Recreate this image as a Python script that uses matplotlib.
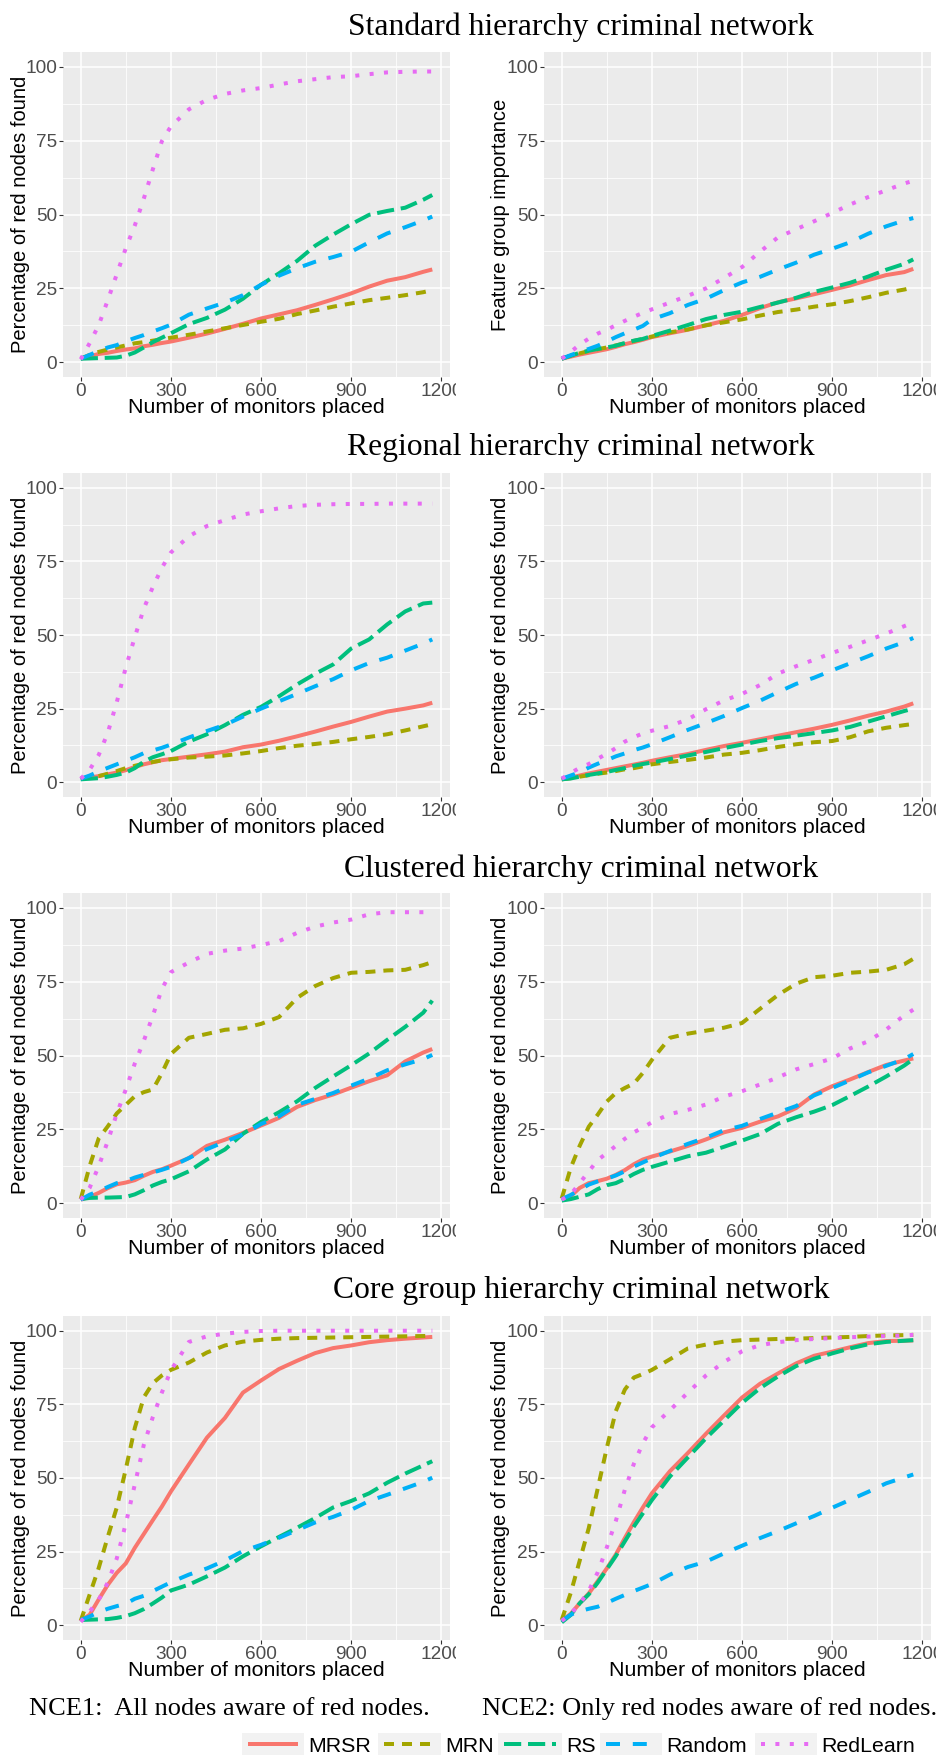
import matplotlib
matplotlib.use("Agg")
import matplotlib.pyplot as plt
from matplotlib.lines import Line2D
from matplotlib.patches import Rectangle
from matplotlib.transforms import Bbox, TransformedBbox

# ---------------------------------------------------------------- data
monitors = [0, 30, 60, 90, 120, 150, 180, 210, 240, 270, 300, 360, 420, 480,
            540, 600, 660, 720, 780, 840, 900, 960, 1020, 1080, 1140, 1170]

methods = ["MRSR", "MRN", "RS", "Random", "RedLearn"]

# Standard hierarchy, NCE1
standard_nce1_mrsr = [1.2, 2.0, 2.8, 3.2, 3.8, 4.3, 4.7, 5.4, 5.9, 6.5, 7.0, 8.3, 9.7, 11.3, 13.0, 14.8, 16.2, 17.6, 19.4, 21.3, 23.3, 25.6, 27.6, 28.8, 30.6, 31.4]
standard_nce1_mrn = [1.2, 2.5, 3.5, 4.3, 5.0, 5.7, 6.4, 6.8, 7.3, 7.8, 8.3, 9.3, 10.4, 11.5, 12.6, 13.7, 14.7, 16.3, 17.5, 18.8, 19.9, 21.0, 21.8, 22.7, 23.7, 24.4]
standard_nce1_rs = [1.2, 1.3, 1.4, 1.5, 1.6, 2.2, 3.3, 5.0, 6.8, 8.3, 9.8, 12.9, 15.0, 17.8, 21.5, 26.2, 30.1, 34.3, 39.4, 43.2, 46.7, 49.9, 51.2, 52.3, 55.0, 56.6]
standard_nce1_random = [1.2, 2.5, 3.8, 5.0, 5.8, 7.1, 8.2, 9.2, 10.4, 11.5, 12.7, 16.1, 18.2, 20.2, 22.7, 26.2, 29.3, 31.8, 34.0, 35.6, 37.4, 40.6, 43.6, 45.7, 48.0, 49.3]
standard_nce1_redlearn = [1.0, 6.5, 12.6, 21.0, 29.8, 38.6, 46.3, 55.4, 65.3, 74.8, 79.8, 85.6, 88.8, 90.8, 92.0, 92.8, 94.0, 95.1, 95.8, 96.5, 96.8, 97.5, 98.1, 98.3, 98.4, 98.4]

# Standard hierarchy, NCE2
standard_nce2_mrsr = [1.2, 1.9, 2.6, 3.2, 3.8, 4.4, 5.2, 6.1, 6.8, 7.6, 8.5, 9.8, 11.0, 12.5, 14.0, 16.0, 18.3, 20.3, 21.6, 23.0, 24.5, 26.0, 27.8, 29.5, 30.5, 31.6]
standard_nce2_mrn = [1.2, 2.2, 3.0, 3.8, 4.4, 5.0, 5.7, 6.4, 7.2, 7.9, 8.7, 10.1, 11.1, 12.5, 13.5, 14.5, 15.8, 17.0, 17.8, 18.8, 19.6, 20.7, 22.0, 23.5, 24.6, 25.3]
standard_nce2_rs = [1.2, 2.2, 3.2, 3.9, 4.5, 5.0, 5.6, 6.5, 7.3, 7.9, 8.9, 10.7, 12.6, 14.6, 16.0, 17.1, 18.7, 20.2, 21.8, 23.8, 25.3, 26.9, 29.0, 31.3, 33.3, 34.8]
standard_nce2_random = [1.2, 2.4, 3.5, 4.5, 5.6, 7.0, 8.5, 9.8, 11.0, 12.3, 14.5, 16.6, 19.4, 21.5, 24.4, 27.0, 28.9, 31.4, 33.7, 36.4, 38.4, 40.6, 43.5, 46.0, 48.0, 48.8]
standard_nce2_redlearn = [1.2, 3.5, 6.0, 8.0, 9.7, 11.0, 12.5, 14.0, 15.4, 16.7, 17.9, 20.2, 22.5, 25.0, 28.5, 32.2, 37.4, 42.3, 45.0, 47.7, 50.5, 53.4, 55.9, 58.2, 60.5, 61.4]

# Regional hierarchy, NCE1
regional_nce1_mrsr = [1.2, 1.6, 2.1, 2.7, 3.3, 4.1, 5.2, 6.1, 6.8, 7.5, 7.9, 8.7, 9.5, 10.4, 11.9, 12.8, 14.1, 15.6, 17.2, 18.9, 20.5, 22.3, 24.0, 25.0, 26.1, 27.0]
regional_nce1_mrn = [1.2, 1.6, 2.1, 2.9, 3.8, 4.8, 5.6, 6.3, 6.9, 7.4, 7.8, 8.4, 8.7, 9.1, 9.8, 10.6, 11.6, 12.4, 13.0, 13.7, 14.6, 15.4, 16.3, 17.6, 19.0, 19.7]
regional_nce1_rs = [1.0, 1.2, 1.4, 1.9, 2.5, 3.3, 4.8, 7.0, 8.5, 9.5, 10.6, 13.8, 16.3, 19.4, 22.9, 25.6, 29.2, 33.2, 36.8, 40.0, 45.4, 48.5, 53.6, 58.0, 60.7, 61.0]
regional_nce1_random = [1.2, 2.3, 3.7, 4.9, 6.1, 7.3, 8.5, 9.9, 10.8, 11.7, 12.8, 15.2, 17.4, 19.5, 22.3, 25.0, 27.5, 30.0, 32.6, 35.0, 38.0, 40.5, 42.3, 44.7, 47.1, 48.5]
regional_nce1_redlearn = [1.2, 4.3, 9.3, 16.8, 27.2, 39.0, 49.3, 59.0, 66.3, 72.8, 78.0, 83.5, 87.0, 89.0, 90.9, 92.0, 93.0, 93.8, 94.2, 94.4, 94.5, 94.5, 94.6, 94.6, 94.6, 94.6]

# Regional hierarchy, NCE2
regional_nce2_mrsr = [1.0, 1.6, 2.3, 3.0, 3.6, 4.2, 4.8, 5.4, 6.0, 6.6, 7.3, 8.5, 9.6, 11.0, 12.3, 13.4, 14.6, 15.8, 17.0, 18.2, 19.5, 21.0, 22.6, 24.0, 25.7, 26.8]
regional_nce2_mrn = [1.0, 1.4, 1.9, 2.4, 2.9, 3.3, 3.8, 4.4, 4.8, 5.4, 6.1, 6.9, 7.6, 8.4, 9.4, 10.0, 10.9, 12.0, 12.9, 13.6, 14.0, 15.3, 17.3, 18.5, 19.4, 19.8]
regional_nce2_rs = [1.0, 1.3, 1.9, 2.5, 3.0, 3.5, 4.2, 4.8, 5.6, 6.2, 6.7, 7.9, 9.1, 10.3, 11.6, 12.8, 14.0, 15.0, 15.8, 16.7, 17.6, 18.8, 20.6, 22.4, 24.2, 25.0]
regional_nce2_random = [1.2, 2.3, 3.4, 5.0, 6.3, 7.5, 8.8, 9.8, 10.9, 11.8, 12.9, 15.3, 17.8, 20.1, 22.5, 25.2, 27.7, 30.6, 33.4, 35.5, 38.0, 40.4, 42.8, 45.4, 47.6, 49.0]
regional_nce2_redlearn = [1.2, 3.2, 4.9, 6.2, 8.0, 9.7, 11.6, 13.8, 15.3, 16.6, 17.5, 19.1, 21.4, 24.8, 27.8, 30.0, 33.0, 36.9, 39.4, 41.6, 43.9, 46.0, 48.2, 50.5, 53.0, 54.3]

# Clustered hierarchy, NCE1
clustered_nce1_mrsr = [1.2, 2.2, 3.5, 5.1, 6.4, 7.0, 7.8, 9.3, 10.6, 11.5, 12.7, 15.3, 19.4, 21.5, 23.8, 26.3, 28.9, 32.6, 34.9, 36.8, 39.1, 41.3, 43.3, 48.0, 51.0, 52.2]
clustered_nce1_mrn = [1.4, 12.7, 22.0, 26.0, 30.4, 33.3, 36.2, 37.6, 38.5, 44.0, 50.5, 56.0, 57.3, 58.7, 59.2, 60.7, 63.0, 69.5, 73.5, 76.2, 78.0, 78.3, 78.8, 79.0, 80.6, 81.6]
clustered_nce1_rs = [1.4, 1.8, 1.9, 1.9, 2.0, 2.1, 3.0, 4.4, 6.0, 7.2, 8.1, 10.8, 14.8, 18.2, 23.5, 27.5, 30.8, 34.5, 39.0, 42.9, 46.7, 50.7, 55.3, 59.7, 64.5, 68.6]
clustered_nce1_random = [1.2, 2.9, 4.1, 5.5, 6.8, 7.5, 8.7, 9.6, 10.4, 11.3, 12.3, 15.3, 18.3, 20.8, 23.3, 26.8, 29.4, 33.3, 35.3, 37.3, 39.8, 42.2, 45.0, 47.0, 48.8, 50.2]
clustered_nce1_redlearn = [1.2, 5.3, 12.6, 21.0, 30.3, 38.5, 47.3, 55.0, 63.5, 72.5, 78.2, 81.5, 84.4, 85.5, 86.2, 87.4, 88.7, 91.5, 93.6, 95.0, 96.0, 97.8, 98.5, 98.5, 98.5, 98.5]

# Clustered hierarchy, NCE2
clustered_nce2_mrsr = [1.2, 2.4, 5.2, 6.8, 7.5, 8.3, 9.6, 11.2, 13.2, 14.8, 15.8, 17.5, 19.4, 21.6, 24.0, 25.5, 27.6, 29.4, 32.2, 36.8, 39.6, 41.9, 44.4, 46.8, 48.3, 49.0]
clustered_nce2_mrn = [1.6, 12.0, 19.5, 25.9, 30.0, 34.4, 37.3, 39.0, 40.5, 44.1, 48.5, 56.0, 57.4, 58.4, 59.4, 61.0, 65.8, 70.5, 74.3, 76.5, 77.0, 78.0, 78.4, 79.0, 80.9, 82.7]
clustered_nce2_rs = [0.9, 1.4, 2.2, 3.0, 4.8, 6.1, 6.8, 8.2, 9.9, 11.3, 12.3, 14.1, 15.9, 17.1, 19.1, 21.2, 23.4, 26.9, 29.1, 31.0, 33.2, 36.3, 39.5, 42.9, 46.6, 48.8]
clustered_nce2_random = [1.4, 2.8, 4.5, 6.3, 7.4, 8.3, 9.4, 10.8, 12.4, 13.8, 15.2, 17.7, 20.1, 22.2, 24.7, 26.2, 28.5, 30.7, 32.9, 36.5, 39.0, 41.6, 44.3, 46.5, 48.8, 50.5]
clustered_nce2_redlearn = [1.2, 3.0, 6.8, 10.8, 14.6, 17.0, 19.4, 21.8, 24.0, 25.6, 27.4, 30.2, 31.6, 33.4, 36.1, 37.9, 40.2, 42.6, 45.3, 47.1, 49.0, 52.4, 54.8, 58.8, 63.6, 65.5]

# Core group hierarchy, NCE1
core_nce1_mrsr = [1.5, 3.6, 8.8, 13.7, 17.8, 21.0, 26.3, 31.0, 35.7, 40.3, 45.4, 54.6, 63.7, 70.4, 79.0, 83.1, 87.0, 89.8, 92.4, 94.1, 95.0, 96.1, 96.8, 97.3, 97.7, 97.9]
core_nce1_mrn = [1.5, 10.5, 19.5, 30.0, 40.0, 53.0, 67.0, 77.4, 82.2, 84.8, 86.7, 89.2, 92.6, 95.0, 96.3, 96.9, 97.3, 97.5, 97.6, 97.7, 97.8, 97.9, 98.0, 98.1, 98.2, 98.3]
core_nce1_rs = [1.8, 1.9, 2.0, 2.1, 2.5, 3.1, 4.1, 5.5, 7.4, 9.4, 11.8, 13.8, 16.6, 19.6, 23.4, 26.8, 30.0, 33.1, 36.4, 40.0, 42.2, 44.8, 48.4, 51.5, 54.3, 55.7]
core_nce1_random = [1.8, 3.0, 4.5, 5.6, 6.5, 7.3, 9.0, 10.0, 11.6, 13.1, 14.6, 17.2, 19.3, 22.0, 25.2, 27.3, 29.7, 32.3, 34.9, 36.8, 39.2, 42.2, 44.3, 46.5, 48.7, 50.1]
core_nce1_redlearn = [1.2, 4.7, 8.7, 14.5, 22.7, 34.5, 47.8, 61.3, 70.7, 79.0, 86.5, 96.2, 98.1, 99.0, 99.6, 99.9, 100, 100, 100, 100, 100, 100, 100, 100, 100, 100]

# Core group hierarchy, NCE2
core_nce2_mrsr = [1.5, 3.9, 7.5, 10.8, 15.0, 19.3, 24.0, 29.6, 35.0, 40.0, 44.8, 52.3, 58.5, 65.0, 71.2, 77.3, 82.0, 85.5, 88.9, 91.5, 92.9, 94.4, 95.8, 96.5, 96.6, 96.7]
core_nce2_mrn = [1.8, 11.0, 22.0, 33.0, 46.5, 60.2, 72.7, 80.0, 84.1, 85.3, 86.7, 90.3, 94.0, 95.3, 96.3, 96.8, 97.0, 97.2, 97.3, 97.5, 97.7, 97.9, 98.2, 98.4, 98.5, 98.6]
core_nce2_rs = [1.0, 3.5, 7.5, 10.5, 14.5, 19.0, 23.5, 28.5, 33.5, 38.0, 42.5, 50.5, 57.0, 63.5, 69.5, 75.5, 80.5, 84.5, 88.0, 90.5, 92.3, 94.0, 95.4, 96.2, 96.6, 96.8]
core_nce2_random = [1.5, 3.6, 4.8, 5.6, 6.3, 7.6, 9.0, 10.3, 11.6, 12.8, 14.0, 17.2, 19.8, 21.6, 24.4, 27.0, 29.6, 32.0, 34.6, 37.1, 39.9, 42.6, 45.3, 48.2, 50.2, 51.2]
core_nce2_redlearn = [1.5, 3.9, 7.3, 11.7, 18.0, 26.4, 35.4, 46.0, 54.8, 61.8, 67.2, 73.0, 79.0, 84.8, 89.4, 93.0, 95.1, 96.1, 96.8, 97.2, 97.5, 97.8, 98.0, 98.2, 98.4, 98.6]

row_titles = ["Standard hierarchy criminal network",
              "Regional hierarchy criminal network",
              "Clustered hierarchy criminal network",
              "Core group hierarchy criminal network"]
captions = ["NCE1:  All nodes aware of red nodes.",
            "NCE2: Only red nodes aware of red nodes."]
x_ticks = [0, 300, 600, 900, 1200]
y_ticks = [0, 25, 50, 75, 100]
x_label = "Number of monitors placed"
y_label = "Percentage of red nodes found"
y_label_feature = "Feature group importance"

panels = [
    [[standard_nce1_mrsr, standard_nce1_mrn, standard_nce1_rs, standard_nce1_random, standard_nce1_redlearn],
     [standard_nce2_mrsr, standard_nce2_mrn, standard_nce2_rs, standard_nce2_random, standard_nce2_redlearn]],
    [[regional_nce1_mrsr, regional_nce1_mrn, regional_nce1_rs, regional_nce1_random, regional_nce1_redlearn],
     [regional_nce2_mrsr, regional_nce2_mrn, regional_nce2_rs, regional_nce2_random, regional_nce2_redlearn]],
    [[clustered_nce1_mrsr, clustered_nce1_mrn, clustered_nce1_rs, clustered_nce1_random, clustered_nce1_redlearn],
     [clustered_nce2_mrsr, clustered_nce2_mrn, clustered_nce2_rs, clustered_nce2_random, clustered_nce2_redlearn]],
    [[core_nce1_mrsr, core_nce1_mrn, core_nce1_rs, core_nce1_random, core_nce1_redlearn],
     [core_nce2_mrsr, core_nce2_mrn, core_nce2_rs, core_nce2_random, core_nce2_redlearn]],
]
y_labels = [[y_label, y_label_feature], [y_label, y_label], [y_label, y_label], [y_label, y_label]]

# ---------------------------------------------------------------- style
colors = {"MRSR": "#F8766D", "MRN": "#A3A500", "RS": "#00BF7D",
          "Random": "#00B0F6", "RedLearn": "#E76BF3"}
line_styles = {"MRSR": "-", "MRN": (0, (2.5, 2.0)), "RS": (0, (4.3, 1.7)),
               "Random": (0, (3.5, 3.2)), "RedLearn": (0, (1.0, 2.6))}
LW = 2.88
SANS = ["Liberation Sans", "DejaVu Sans"]
SERIF = ["Liberation Serif", "DejaVu Serif"]
PANEL_BG = "#EBEBEB"

W, H, DPI = 937, 1757, 100
plt.rcParams["font.family"] = SANS

fig = plt.figure(figsize=(W / DPI, H / DPI), dpi=DPI)
fig.patch.set_facecolor("white")

col_x = [(63, 450), (544, 931)]
row_y = [(52, 377), (473, 797), (893, 1218), (1316, 1640)]
# the left column is cut at its right edge, so its last tick label is clipped
left_clip = TransformedBbox(Bbox([[0, 0], [456 / W, 1]]), fig.transFigure)


def style_axes(ax):
    ax.set_facecolor(PANEL_BG)
    for s in ax.spines.values():
        s.set_visible(False)
    ax.set_xlim(-59, 1229)
    ax.set_ylim(-5, 105)
    ax.set_xticks(x_ticks)
    ax.set_xticks([150, 450, 750, 1050], minor=True)
    ax.set_yticks(y_ticks)
    ax.set_yticks([12.5, 37.5, 62.5, 87.5], minor=True)
    ax.grid(which="major", color="white", linewidth=1.1)
    ax.grid(which="minor", color="white", linewidth=0.55)
    ax.set_axisbelow(True)
    ax.tick_params(which="major", length=2.75, width=0.8, color="#333333",
                   labelcolor="#4D4D4D", labelsize=13.7, pad=1.5)
    ax.tick_params(which="minor", length=0)


for r, (top, bottom) in enumerate(row_y):
    for c, (left, right) in enumerate(col_x):
        ax = fig.add_axes([left / W, 1 - bottom / H, (right - left) / W, (bottom - top) / H])
        style_axes(ax)
        for name, values in zip(methods, panels[r][c]):
            ax.plot(monitors, values, color=colors[name], linewidth=LW,
                    linestyle=line_styles[name], solid_capstyle="butt",
                    dash_capstyle="butt", solid_joinstyle="round",
                    dash_joinstyle="round")
        height = bottom - top
        width = right - left
        ax.set_xlabel(x_label, fontsize=15.4, color="black")
        ax.xaxis.set_label_coords(0.5, -36 / height)
        ax.xaxis.label.set_va("baseline")
        ax.set_ylabel(y_labels[r][c], fontsize=14.5, color="black")
        ax.yaxis.set_label_coords(-43 / width, 0.5)
        ax.yaxis.label.set_va("center")
        if c == 0:
            for lbl in ax.get_xticklabels():
                lbl.set_clip_box(left_clip)
                lbl.set_clip_on(True)

# ---------------------------------------------------------------- overlay: titles, captions, legend
ov = fig.add_axes([0, 0, 1, 1])
ov.set_xlim(0, W)
ov.set_ylim(H, 0)
ov.axis("off")
ov.patch.set_visible(False)

title_baselines = [35, 455, 877, 1298]
for text, yb in zip(row_titles, title_baselines):
    ov.text(581, yb, text, family=SERIF, fontsize=22.8, ha="center", va="baseline")

ov.text(229, 1715, captions[0], family=SERIF, fontsize=19, ha="center", va="baseline")
ov.text(710, 1715, captions[1], family=SERIF, fontsize=19, ha="center", va="baseline")

legend_keys = [(242, 304), (378, 441), (498, 562), (600, 662), (755, 817)]
key_top, key_bottom = 1733, 1755
for name, (k0, k1) in zip(methods, legend_keys):
    ov.add_patch(Rectangle((k0, key_top), k1 - k0, key_bottom - key_top,
                           facecolor="#F2F2F2", edgecolor="none"))
    ov.add_line(Line2D([k0 + 6, k1 - 6], [(key_top + key_bottom) / 2] * 2,
                       color=colors[name], linewidth=LW, linestyle=line_styles[name],
                       solid_capstyle="butt", dash_capstyle="butt"))
    ov.text(k1 + 4, 1752, name, fontsize=15.4, ha="left", va="baseline", color="black")

fig.savefig("out.png", dpi=DPI, facecolor="white")
